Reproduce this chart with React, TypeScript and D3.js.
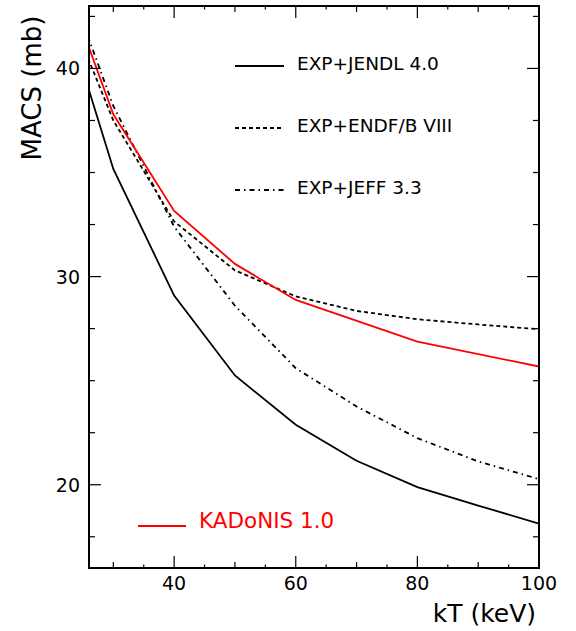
import React from "react";
import * as d3 from "d3";

const kT = [25, 30, 40, 50, 60, 70, 80, 90, 100];
const jendl = [39.9, 35.17, 29.09, 25.25, 22.88, 21.15, 19.89, 19.0, 18.13];
const endf = [41.1, 37.5, 32.65, 30.3, 29.05, 28.35, 27.95, 27.7, 27.47];
const jeff = [42.2, 38.2, 32.4, 28.6, 25.6, 23.76, 22.24, 21.12, 20.27];
const kadonisKT = [25, 30, 40, 50, 60, 80, 100];
const kadonis = [41.8, 37.8, 33.15, 30.61, 28.88, 26.88, 25.68];

const xTickLabels = [40, 60, 80, 100];
const yTickLabels = [20, 30, 40];

const legendEntries = [
  { label: "EXP+JENDL 4.0", dash: "none" },
  { label: "EXP+ENDF/B VIII", dash: "4,3" },
  { label: "EXP+JEFF 3.3", dash: "5,4,1.5,4" },
];

const W = 576;
const H = 631;
const L = 89, R = 539, T = 6, B = 568;
const FONT = "'DejaVu Sans', sans-serif";

export default function App() {
  const x = d3.scaleLinear().domain([26, 100]).range([L, R]);
  const y = d3.scaleLinear().domain([16, 43]).range([B, T]);
  const line = d3
    .line<[number, number]>()
    .x((d) => x(d[0]))
    .y((d) => y(d[1]));

  const series = [
    { vals: jendl, ks: kT, color: "#000", dash: "none" },
    { vals: endf, ks: kT, color: "#000", dash: "4,3" },
    { vals: jeff, ks: kT, color: "#000", dash: "5,4,1.5,4" },
    { vals: kadonis, ks: kadonisKT, color: "#f00", dash: "none" },
  ];

  const xTicks = d3.range(30, 101, 5);
  const xTickLen = (v: number) => (v % 20 === 0 ? 12 : v % 10 === 0 ? 6 : 3.5);
  const yTicks = d3.range(17.5, 43, 2.5);
  const yTickLen = (v: number) => (v % 10 === 0 ? 12 : 6);

  return (
    <svg width={W} height={H} style={{ display: "block", position: "absolute", left: 0, top: 0, background: "#fff" }}>
      <defs>
        <clipPath id="plotclip">
          <rect x={L} y={T} width={R - L} height={B - T} />
        </clipPath>
      </defs>
      <rect x={0} y={0} width={W} height={H} fill="#fff" />

      <g clipPath="url(#plotclip)">
        {series.map((s, i) => (
          <path
            key={i}
            d={line(s.ks.map((k, j) => [k, s.vals[j]] as [number, number])) || ""}
            fill="none"
            stroke={s.color}
            strokeWidth={1.8}
            strokeDasharray={s.dash}
          />
        ))}
      </g>

      {xTicks.map((v) => (
        <g key={"xt" + v}>
          <line x1={x(v)} x2={x(v)} y1={B} y2={B - xTickLen(v)} stroke="#000" strokeWidth={1.2} />
          <line x1={x(v)} x2={x(v)} y1={T} y2={T + xTickLen(v)} stroke="#000" strokeWidth={1.2} />
        </g>
      ))}
      {yTicks.map((v) => (
        <g key={"yt" + v}>
          <line x1={L} x2={L + yTickLen(v)} y1={y(v)} y2={y(v)} stroke="#000" strokeWidth={1.2} />
          <line x1={R} x2={R - yTickLen(v)} y1={y(v)} y2={y(v)} stroke="#000" strokeWidth={1.2} />
        </g>
      ))}

      <rect x={L} y={T} width={R - L} height={B - T} fill="none" stroke="#000" strokeWidth={2} />

      {xTickLabels.map((v) => (
        <text key={"xl" + v} x={x(v)} y={590} textAnchor="middle" fontFamily={FONT} fontSize={19} fill="#000">
          {v}
        </text>
      ))}
      {yTickLabels.map((v) => (
        <text key={"yl" + v} x={80} y={y(v) + 7} textAnchor="end" fontFamily={FONT} fontSize={19} fill="#000">
          {v}
        </text>
      ))}

      <text x={536} y={622} textAnchor="end" fontFamily={FONT} fontSize={25} fill="#000">
        kT (keV)
      </text>
      <text
        transform={`translate(41, 88) rotate(-90)`}
        textAnchor="middle"
        fontFamily={FONT}
        fontSize={26}
        fill="#000"
      >
        MACS (mb)
      </text>

      {legendEntries.map((e, i) => (
        <g key={"lg" + i}>
          <line
            x1={235}
            x2={284}
            y1={66 + i * 62}
            y2={66 + i * 62}
            stroke="#000"
            strokeWidth={1.8}
            strokeDasharray={e.dash}
          />
          <text x={297} y={70 + i * 62} fontFamily={FONT} fontSize={18.5} fill="#000">
            {e.label}
          </text>
        </g>
      ))}
      <line x1={138} x2={186} y1={526} y2={526} stroke="#f00" strokeWidth={1.8} />
      <text x={199} y={528} fontFamily={FONT} fontSize={21.5} fill="#f00">
        KADoNIS 1.0
      </text>
    </svg>
  );
}
